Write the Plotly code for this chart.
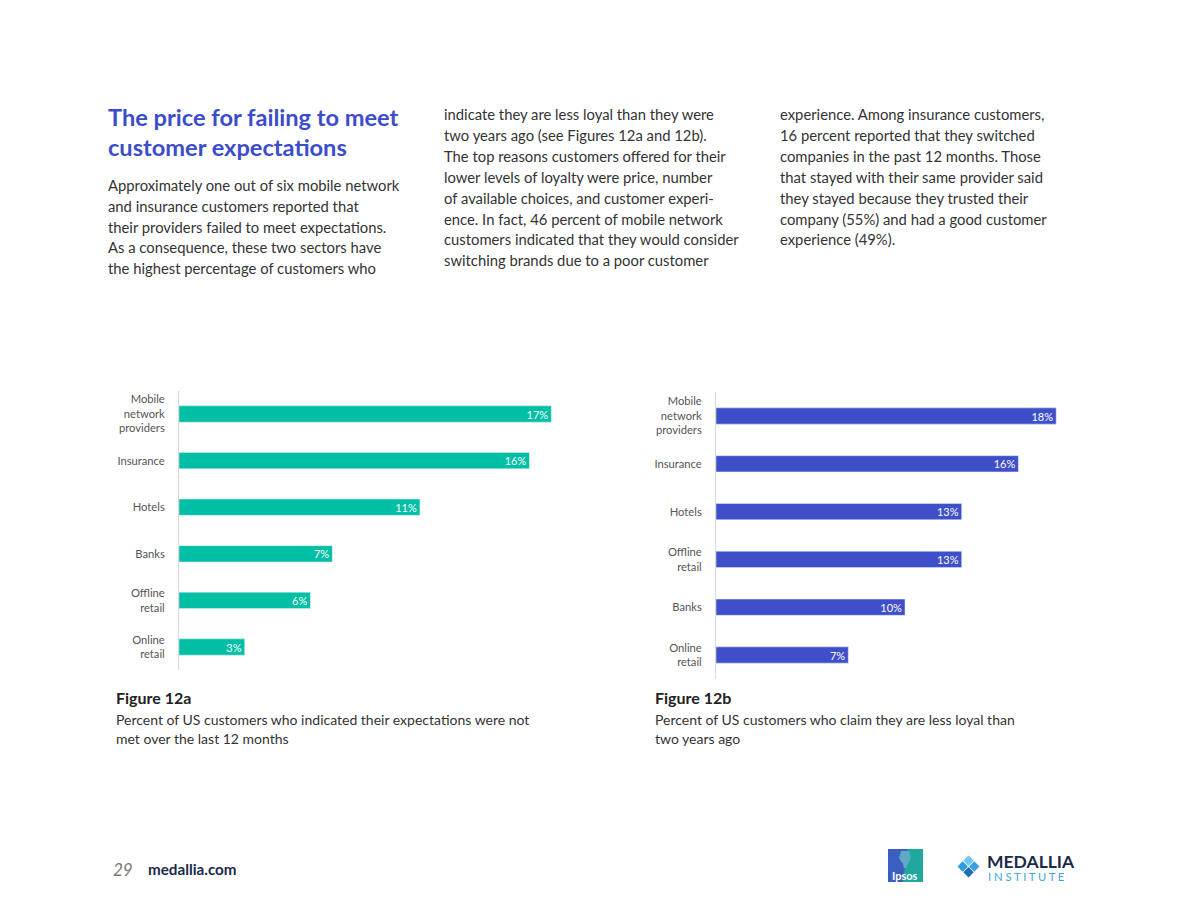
import plotly.graph_objects as go

W, H = 1184, 915

# ---------------- data ----------------
cats_a = ["Mobile<br>network<br>providers", "Insurance", "Hotels", "Banks", "Offline<br>retail", "Online<br>retail"]
vals_a = [17, 16, 11, 7, 6, 3]

cats_b = ["Mobile<br>network<br>providers", "Insurance", "Hotels", "Offline<br>retail", "Banks", "Online<br>retail"]
vals_b = [18, 16, 13, 13, 10, 7]

TEAL = "#00BFA5"
BLUE = "#3F4FC9"
TITLE_BLUE = "#3B4DCB"
TEXT = "#333333"
FONT = "Lato"


def px(x):
    return x / W


def py(y):
    return 1 - y / H


fig = go.Figure()

fig.add_trace(go.Bar(
    x=vals_a, y=cats_a, orientation="h", marker=dict(color=TEAL),
    width=0.35, text=[f"{v}%" for v in vals_a], textposition="inside",
    insidetextanchor="end", textangle=0, constraintext="none",
    textfont=dict(color="white", size=11, family=FONT),
    xaxis="x", yaxis="y", showlegend=False, hoverinfo="skip",
))
fig.add_trace(go.Bar(
    x=vals_b, y=cats_b, orientation="h", marker=dict(color=BLUE),
    width=0.34, text=[f"{v}%" for v in vals_b], textposition="inside",
    insidetextanchor="end", textangle=0, constraintext="none",
    textfont=dict(color="white", size=11, family=FONT),
    xaxis="x2", yaxis="y2", showlegend=False, hoverinfo="skip",
))

scale_a = 21.9
scale_b = 18.9
ax_common = dict(showgrid=False, zeroline=False, showticklabels=False, fixedrange=True)
ay_common = dict(showgrid=False, zeroline=False, showline=True, linecolor="#D9D9D9",
                 linewidth=1, ticks="", ticklabelstandoff=11, fixedrange=True,
                 tickfont=dict(size=11.2, color="#555555", family=FONT),
                 autorange="reversed", type="category")

fig.update_layout(
    width=W, height=H, margin=dict(l=0, r=0, t=0, b=0),
    paper_bgcolor="white", plot_bgcolor="white",
    font=dict(family=FONT, color=TEXT),
    bargap=0,
    xaxis=dict(domain=[px(179), px(179 + 20 * scale_a)], range=[0, 20], anchor="y", **ax_common),
    yaxis=dict(domain=[py(670.3), py(390.7)], anchor="x", **ay_common),
    xaxis2=dict(domain=[px(716), px(716 + 20 * scale_b)], range=[0, 20], anchor="y2", **ax_common),
    yaxis2=dict(domain=[py(678.9), py(392.1)], anchor="x2", **ay_common),
)

ann = []


def text(x, y, s, size=14.8, color=TEXT, bold=False, italic=False, family=FONT, anchor="left"):
    if bold:
        s = f"<b>{s}</b>"
    if italic:
        s = f"<i>{s}</i>"
    ann.append(dict(x=px(x), y=py(y), xref="paper", yref="paper", text=s, showarrow=False,
                    xanchor=anchor, yanchor="middle",
                    font=dict(size=size, color=color, family=family)))


# Title
text(106, 117, "The price for failing to meet", size=23.6, color=TITLE_BLUE, bold=True)
text(106, 147, "customer expectations", size=23.6, color=TITLE_BLUE, bold=True)

col1 = ["Approximately one out of six mobile network",
        "and insurance customers reported that",
        "their providers failed to meet expectations.",
        "As a consequence, these two sectors have",
        "the highest percentage of customers who"]
for i, s in enumerate(col1):
    text(106, 185 + i * 20.8, s)

col2 = ["indicate they are less loyal than they were",
        "two years ago (see Figures 12a and 12b).",
        "The top reasons customers offered for their",
        "lower levels of loyalty were price, number",
        "of available choices, and customer experi-",
        "ence. In fact, 46 percent of mobile network",
        "customers indicated that they would consider",
        "switching brands due to a poor customer"]
for i, s in enumerate(col2):
    text(442, 114 + i * 20.9, s)

col3 = ["experience. Among insurance customers,",
        "16 percent reported that they switched",
        "companies in the past 12 months. Those",
        "that stayed with their same provider said",
        "they stayed because they trusted their",
        "company (55%) and had a good customer",
        "experience (49%)."]
for i, s in enumerate(col3):
    text(778, 114 + i * 20.9, s)

# Figure captions
text(114, 697, "Figure 12a", size=16, color="#222222", bold=True)
text(114, 719, "Percent of US customers who indicated their expectations were not", size=14)
text(114, 738, "met over the last 12 months", size=14)

text(653, 697, "Figure 12b", size=16, color="#222222", bold=True)
text(653, 719, "Percent of US customers who claim they are less loyal than", size=14)
text(653, 738, "two years ago", size=14)

# Footer
text(111, 869, "29", size=17, color="#777777", italic=True)
text(146, 869, "medallia.com", size=15.2, color="#1B2A4A", bold=True)

# Medallia Institute wordmark
text(985, 861, "MEDALLIA", size=17.5, color="#1B2A4A", bold=True)
text(986, 876, "I N S T I T U T E", size=11.2, color="#3AA6DD")
# Ipsos text
text(905, 875, "Ipsos", size=11, color="white", bold=True, anchor="center")

shapes = []


def path(points, color):
    d = "M " + " L ".join(f"{px(x)},{py(y)}" for x, y in points) + " Z"
    shapes.append(dict(type="path", path=d, xref="paper", yref="paper",
                       fillcolor=color, line=dict(width=0), layer="below"))


# Ipsos logo
path([(888, 849), (923, 849), (923, 882), (888, 882)], "#3B5FC0")
path([(907, 849), (923, 849), (923, 882), (903, 882), (905, 866), (909, 858)], "#1FA89E")
path([(901, 851), (909, 851), (911, 858), (908, 864), (906, 868), (904, 868), (903, 864), (899, 858)], "#5FA8C8")

# Medallia diamond (4 small diamonds)
cx, cy, h = 968.5, 866.5, 5.8


def diamond(x, y, color):
    g = 0.6
    path([(x, y - h + g), (x + h - g, y), (x, y + h - g), (x - h + g, y)], color)


diamond(cx, cy - h, "#6CC8F3")
diamond(cx - h, cy, "#2F9BE2")
diamond(cx + h, cy, "#3A9FE4")
diamond(cx, cy + h, "#1D6DBA")

fig.update_layout(annotations=ann, shapes=shapes)

fig.write_html("out.html", config={"displayModeBar": False, "staticPlot": True},
               post_script="document.body.style.margin='0px';document.body.style.padding='0px';")
